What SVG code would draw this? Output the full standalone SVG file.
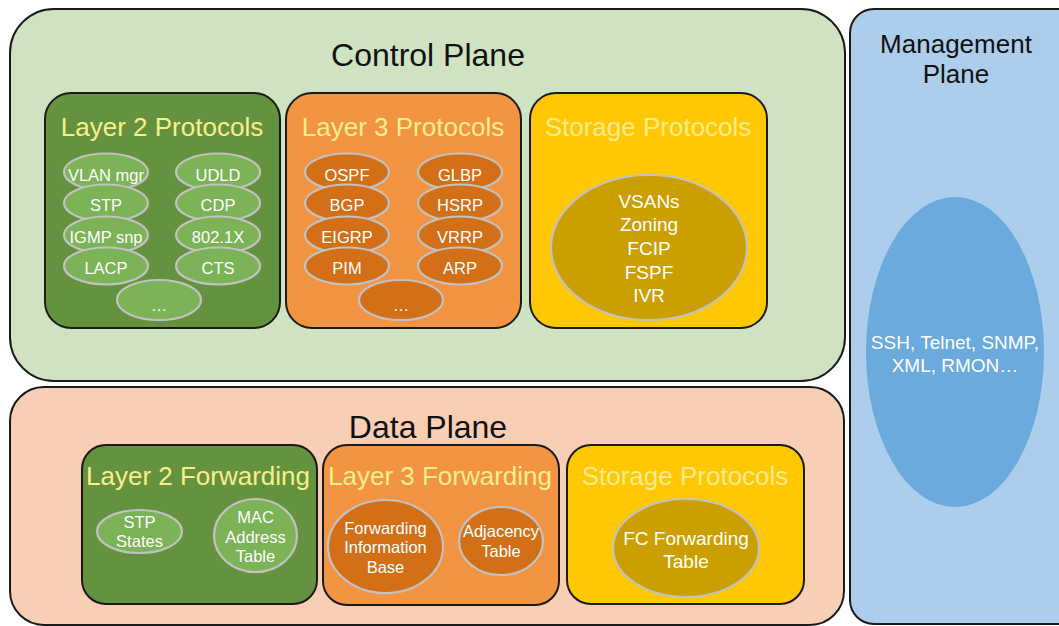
<svg xmlns="http://www.w3.org/2000/svg" width="1059" height="626" viewBox="0 0 1059 626">
<style>
text{font-family:"Liberation Sans",Arial,sans-serif;text-anchor:middle}
.plane{stroke:#1a1a1a;stroke-width:2}
.box{stroke:#1a1a1a;stroke-width:2}
.pt{font-size:32px;fill:#111}
.bt{font-size:26px;fill:#f7ef8c}
.st{font-size:26px;fill:#fbeb90}
.e{stroke:#c2c2c2;stroke-width:2.2}
.et{font-size:16.5px;fill:#fff}
.lt{font-size:19px;fill:#fff}
.g2{fill:#64923f}.g2e{fill:#7bb356}
.o3{fill:#f29441}.o3e{fill:#d36f17}
.y{fill:#ffc800}.ye{fill:#cc9f00}
</style>
<rect width="1059" height="626" fill="#ffffff"/>
<g id="control-plane">
<rect class="plane" x="10" y="9" width="835" height="372" rx="44" fill="#cfe3c3"/>
<text class="pt" x="428" y="66">Control Plane</text>
</g>
<g id="data-plane">
<rect class="plane" x="10" y="387" width="834" height="238" rx="34" fill="#f8cfb4"/>
<text class="pt" x="428" y="438">Data Plane</text>
</g>
<g id="management-plane">
<rect class="plane" x="850" y="9" width="240" height="615" rx="24" fill="#accdeb"/>
<text x="956" y="53" style="font-size:26px;fill:#111">Management</text>
<text x="956" y="83" style="font-size:26px;fill:#111">Plane</text>
<ellipse cx="955" cy="352" rx="89" ry="155" fill="#6aaadc"/>
<text class="lt" x="955" y="349" style="font-size:19px">SSH, Telnet, SNMP,</text>
<text class="lt" x="955" y="372" style="font-size:19px">XML, RMON…</text>
</g>
<g id="layer2-protocols">
<rect class="box g2" x="45" y="93" width="235" height="235" rx="26"/>
<text class="bt" x="162" y="136">Layer 2 Protocols</text>
<ellipse class="e g2e" cx="106" cy="172" rx="42" ry="18.5"/><text class="et" x="106" y="181">VLAN mgr</text>
<ellipse class="e g2e" cx="106" cy="203" rx="42" ry="18.5"/><text class="et" x="106" y="211">STP</text>
<ellipse class="e g2e" cx="106" cy="235" rx="42" ry="18.5"/><text class="et" x="106" y="243">IGMP snp</text>
<ellipse class="e g2e" cx="106" cy="266" rx="42" ry="18.5"/><text class="et" x="106" y="274">LACP</text>
<ellipse class="e g2e" cx="218" cy="172" rx="42" ry="18.5"/><text class="et" x="218" y="181">UDLD</text>
<ellipse class="e g2e" cx="218" cy="203" rx="42" ry="18.5"/><text class="et" x="218" y="211">CDP</text>
<ellipse class="e g2e" cx="218" cy="235" rx="42" ry="18.5"/><text class="et" x="218" y="243">802.1X</text>
<ellipse class="e g2e" cx="218" cy="266" rx="42" ry="18.5"/><text class="et" x="218" y="274">CTS</text>
<ellipse class="e g2e" cx="159" cy="300" rx="42" ry="20"/><text class="et" x="159" y="311">…</text>
</g>
<g id="layer3-protocols">
<rect class="box o3" x="286" y="93" width="235" height="235" rx="26"/>
<text class="bt" x="403" y="136">Layer 3 Protocols</text>
<ellipse class="e o3e" cx="347" cy="172" rx="42" ry="18.5"/><text class="et" x="347" y="181">OSPF</text>
<ellipse class="e o3e" cx="347" cy="203" rx="42" ry="18.5"/><text class="et" x="347" y="211">BGP</text>
<ellipse class="e o3e" cx="347" cy="235" rx="42" ry="18.5"/><text class="et" x="347" y="243">EIGRP</text>
<ellipse class="e o3e" cx="347" cy="266" rx="42" ry="18.5"/><text class="et" x="347" y="274">PIM</text>
<ellipse class="e o3e" cx="460" cy="172" rx="42" ry="18.5"/><text class="et" x="460" y="181">GLBP</text>
<ellipse class="e o3e" cx="460" cy="203" rx="42" ry="18.5"/><text class="et" x="460" y="211">HSRP</text>
<ellipse class="e o3e" cx="460" cy="235" rx="42" ry="18.5"/><text class="et" x="460" y="243">VRRP</text>
<ellipse class="e o3e" cx="460" cy="266" rx="42" ry="18.5"/><text class="et" x="460" y="274">ARP</text>
<ellipse class="e o3e" cx="401" cy="300" rx="42" ry="20"/><text class="et" x="401" y="311">…</text>
</g>
<g id="storage-protocols-control">
<rect class="box y" x="530" y="93" width="237" height="235" rx="26"/>
<text class="st" x="648" y="136">Storage Protocols</text>
<ellipse class="e ye" cx="649" cy="247.5" rx="98" ry="72.5"/>
<text class="lt" x="649" y="208">VSANs</text>
<text class="lt" x="649" y="231">Zoning</text>
<text class="lt" x="649" y="255">FCIP</text>
<text class="lt" x="649" y="279">FSPF</text>
<text class="lt" x="649" y="302">IVR</text>
</g>
<g id="layer2-forwarding">
<rect class="box g2" x="82" y="445" width="235" height="159" rx="24"/>
<text class="bt" x="198" y="485">Layer 2 Forwarding</text>
<ellipse class="e g2e" cx="139.5" cy="531.5" rx="42.5" ry="21.5"/>
<text class="et" x="139.5" y="528">STP</text>
<text class="et" x="139.5" y="547">States</text>
<ellipse class="e g2e" cx="255.5" cy="535.5" rx="41.5" ry="36.5"/>
<text class="et" x="255.5" y="523">MAC</text>
<text class="et" x="255.5" y="543">Address</text>
<text class="et" x="255.5" y="562">Table</text>
</g>
<g id="layer3-forwarding">
<rect class="box o3" x="323" y="445" width="236" height="160" rx="24"/>
<text class="bt" x="440" y="485">Layer 3 Forwarding</text>
<ellipse class="e o3e" cx="385.5" cy="546.5" rx="57.5" ry="46.5"/>
<text class="et" x="385.5" y="534">Forwarding</text>
<text class="et" x="385.5" y="553">Information</text>
<text class="et" x="385.5" y="573">Base</text>
<ellipse class="e o3e" cx="501" cy="541" rx="42" ry="34"/>
<text class="et" x="501" y="537">Adjacency</text>
<text class="et" x="501" y="557">Table</text>
</g>
<g id="storage-forwarding">
<rect class="box y" x="567" y="445" width="237" height="159" rx="24"/>
<text class="st" x="685" y="485">Storage Protocols</text>
<ellipse class="e ye" cx="686" cy="548" rx="73" ry="49"/>
<text class="lt" x="686" y="545">FC Forwarding</text>
<text class="lt" x="686" y="568">Table</text>
</g>
<g id="connectors"></g>
</svg>
